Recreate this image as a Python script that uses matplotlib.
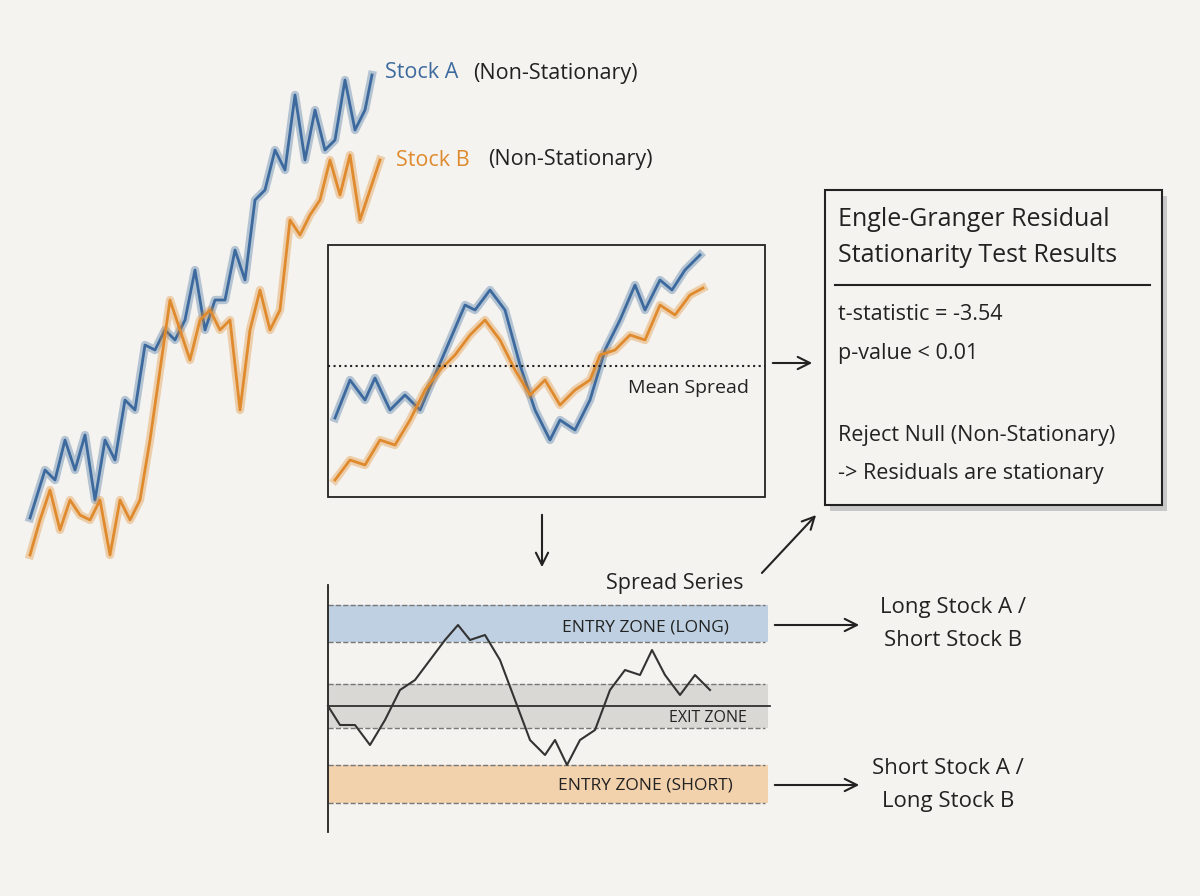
import matplotlib
matplotlib.use("Agg")
import matplotlib.pyplot as plt
from matplotlib.patches import Rectangle, FancyArrowPatch

BLUE = "#3d6a9e"; ORANGE = "#e08a2e"; BG = "#f4f3ef"

stockA_x = [30,45,55,65,75,85,95,105,115,125,135,145,155,165,175,185,195,205,215,225,235,245,255,265,275,285,295,305,315,325,335,345,355,365,372]
stockA_y = [518,470,480,440,470,435,500,440,460,400,410,345,350,330,340,320,270,330,300,300,250,280,200,190,150,170,95,160,110,150,140,80,130,110,75]
stockB_x = [30,40,50,60,70,80,90,100,110,120,130,140,150,160,170,180,190,200,210,220,230,240,250,260,270,280,290,300,310,320,330,340,350,360,370,380]
stockB_y = [555,520,490,530,500,515,520,500,555,500,520,500,440,370,300,330,360,320,310,330,320,410,330,290,330,310,220,235,215,200,160,195,155,220,190,160]
inA_x = [335,350,365,375,390,405,420,435,450,465,475,490,505,520,535,550,560,575,590,605,620,635,645,660,672,685,700]
inA_y = [418,380,400,378,410,395,410,375,340,305,310,290,310,365,410,440,420,430,400,350,320,285,310,280,290,270,255]
inB_x = [335,350,365,380,395,410,425,440,455,470,485,500,515,530,545,560,575,590,600,615,630,645,660,675,690,703]
inB_y = [480,460,465,440,445,420,390,370,355,335,320,340,370,395,380,405,390,380,355,350,335,340,305,315,295,288]
spread_x = [328,340,355,370,385,400,415,430,445,458,470,485,500,515,530,545,555,567,580,595,610,625,640,652,665,680,695,710]
spread_y = [706,725,725,745,720,690,680,660,640,625,640,635,660,700,740,755,740,765,740,730,690,670,675,650,675,695,675,690]

fig = plt.figure(figsize=(12, 8.96), dpi=100, facecolor=BG)
ax = fig.add_axes([0, 0, 1, 1]); ax.set_xlim(0, 1200); ax.set_ylim(896, 0); ax.axis("off")
ax.set_facecolor(BG)
F = "Open Sans"

for x, y, c in [(stockA_x, stockA_y, BLUE), (stockB_x, stockB_y, ORANGE), (inA_x, inA_y, BLUE), (inB_x, inB_y, ORANGE)]:
    ax.plot(x, y, color=c, lw=6, alpha=0.35, solid_joinstyle="round")
    ax.plot(x, y, color=c, lw=2, solid_joinstyle="round")

ax.text(385, 73, "Stock A", color=BLUE, fontsize=15.5, family=F, va="center")
ax.text(473, 73, "(Non-Stationary)", color="#222", fontsize=15.5, family=F, va="center")
ax.text(396, 160, "Stock B", color=ORANGE, fontsize=15.5, family=F, va="center")
ax.text(488, 160, "(Non-Stationary)", color="#222", fontsize=15.5, family=F, va="center")

ax.add_patch(Rectangle((328, 245), 437, 252, fill=False, ec="#222", lw=1.3))
ax.plot([328, 765], [366, 366], ls=":", color="#222", lw=1.5)
ax.text(688, 388, "Mean Spread", fontsize=14, family=F, ha="center", va="center", color="#222")

ax.add_patch(Rectangle((830, 196), 337, 315, fc="#c8c8c8", ec="none"))
ax.add_patch(Rectangle((825, 190), 337, 315, fc=BG, ec="#222", lw=1.5))
ax.text(838, 219, "Engle-Granger Residual", fontsize=18, family=F, va="center", color="#222")
ax.text(838, 256, "Stationarity Test Results", fontsize=18, family=F, va="center", color="#222")
ax.plot([835, 1150], [285, 285], color="#222", lw=1.5)
for y, t in [(315, "t-statistic = -3.54"), (353, "p-value < 0.01"), (435, "Reject Null (Non-Stationary)"), (473, "-> Residuals are stationary")]:
    ax.text(838, y, t, fontsize=15.5, family=F, va="center", color="#222")

def arrow(p, q):
    ax.add_patch(FancyArrowPatch(p, q, arrowstyle="->", mutation_scale=22, lw=1.5, color="#222"))
arrow((770, 363), (815, 363)); arrow((542, 512), (542, 570)); arrow((760, 575), (818, 513))
arrow((772, 625), (862, 625)); arrow((772, 785), (862, 785))

for y0, y1, c in [(605, 642, "#b9cde0"), (684, 728, "#d6d6d2"), (765, 803, "#f2cfa6")]:
    ax.add_patch(Rectangle((328, y0), 440, y1 - y0, fc=c, ec="none", alpha=0.9))
    for y in (y0, y1):
        ax.plot([328, 765], [y, y], ls="--", color="#777", lw=1)
ax.plot([328, 328], [585, 832], color="#222", lw=1.3)
ax.plot([328, 770], [706, 706], color="#222", lw=1.2)
ax.plot(spread_x, spread_y, color="#333", lw=1.5)
ax.text(645, 627, "ENTRY ZONE (LONG)", fontsize=12.5, family=F, ha="center", va="center", color="#222")
ax.text(708, 718, "EXIT ZONE", fontsize=11.5, family=F, ha="center", va="center", color="#222")
ax.text(645, 785, "ENTRY ZONE (SHORT)", fontsize=12.5, family=F, ha="center", va="center", color="#222")
ax.text(675, 583, "Spread Series", fontsize=15.5, family=F, ha="center", va="center", color="#222")
ax.text(953, 607, "Long Stock A /", fontsize=16, family=F, ha="center", va="center", color="#222")
ax.text(953, 640, "Short Stock B", fontsize=16, family=F, ha="center", va="center", color="#222")
ax.text(948, 768, "Short Stock A /", fontsize=16, family=F, ha="center", va="center", color="#222")
ax.text(948, 802, "Long Stock B", fontsize=16, family=F, ha="center", va="center", color="#222")

fig.savefig("out.png", dpi=100, facecolor=BG)
